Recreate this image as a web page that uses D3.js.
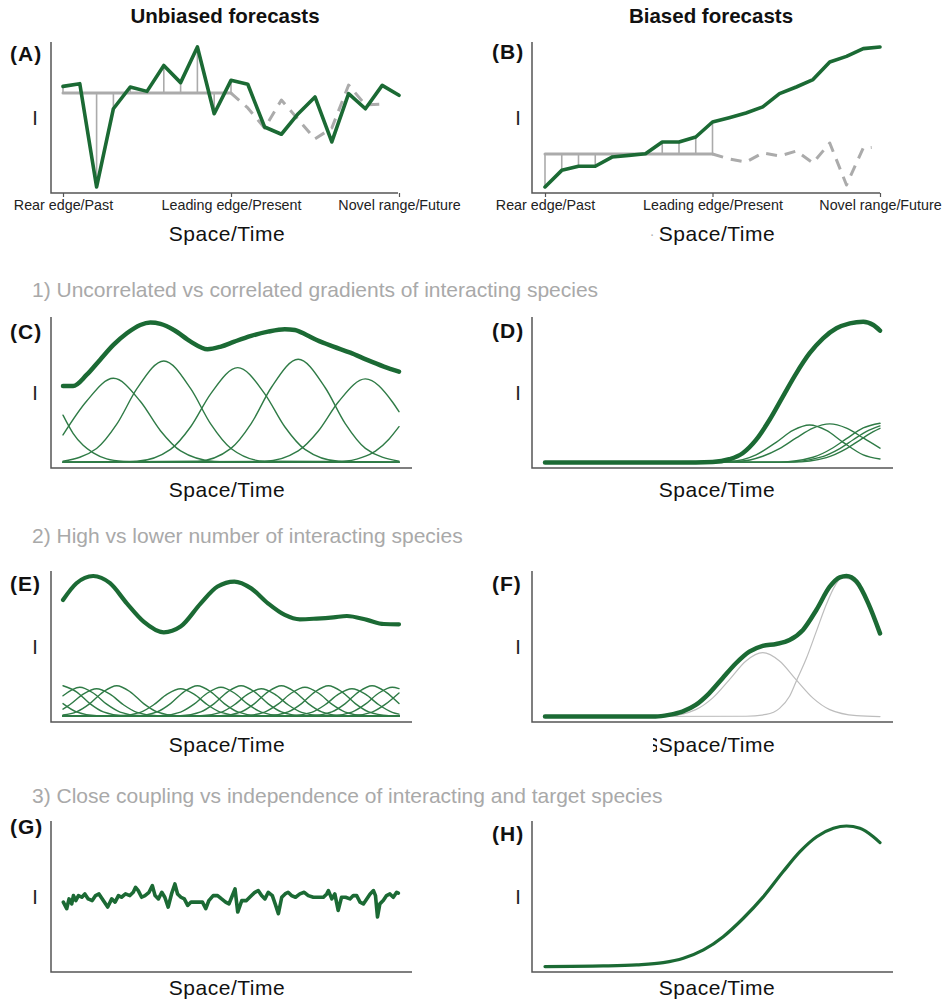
<!DOCTYPE html>
<html>
<head>
<meta charset="utf-8">
<script src="https://cdn.jsdelivr.net/npm/d3@7"></script>
<style>
  body { margin: 0; background: #fff; }
  text { font-family: "Liberation Sans", Arial, Helvetica, sans-serif; }
</style>
</head>
<body>
<svg id="fig" width="947" height="1003"></svg>
<script>
// ---------- data (y in % of panel height) ----------
var columnTitles = ["Unbiased forecasts", "Biased forecasts"];
var sectionTitles = [
    "1) Uncorrelated vs correlated gradients of interacting species",
    "2) High vs lower number of interacting species",
    "3) Close coupling vs independence of interacting and target species"
];
var tickLabels = ["Rear edge/Past", "Leading edge/Present", "Novel range/Future"];
var tickPos = [0, 10, 20];
var axisName = "Space/Time";
var yName = "I";

// (A) observed index, the flat past estimate and the dashed forecast
var aObserved = [70.6, 72.4, 4.0, 55.8, 70.2, 67.3, 84.5, 73.1, 96.7, 52.5, 74.6,
                 72.0, 43.7, 38.9, 52.5, 63.6, 33.8, 65.8, 55.8, 71.3, 64.7];
var aBaseline = 66.2;
var aForecast = [[10, 66.2], [11, 56.3], [12, 43.0], [13, 61.6], [14, 48.7], [15, 35.8],
                 [16, 43.0], [17, 71.5], [18, 58.3], [19, 58.9]];

// (B)
var bObserved = [4.0, 15.0, 17.7, 17.7, 23.8, 24.9, 26.0, 33.8, 33.8, 37.1, 47.0,
                 49.9, 53.0, 57.0, 65.8, 70.2, 75.1, 86.8, 90.5, 95.6, 96.7];
var bBaseline = 25.8;
var bForecast = [[10, 25.8], [11, 22.5], [12, 20.5], [13, 26.5], [14, 24.5], [15, 27.8],
                 [16, 19.9], [17, 33.1], [18, 5.3], [19, 29.8], [19.5, 30.2]];

// (C) summed response and the single species curves
var cTotal = [[0, 54.3], [3, 54.3], [7, 61.6], [11, 71.6], [15, 81.5], [19, 89.2], [23, 94.7],
              [26, 96.3], [29, 95.4], [33, 91.4], [38, 83.7], [43, 78.6], [47, 80.4], [51, 83.7],
              [56, 87.5], [61, 90.3], [66, 91.9], [69, 91.4], [72.5, 88.1], [75.5, 84.8],
              [80.5, 80.4], [85.5, 76.4], [90.5, 71.6], [95.5, 67.2], [100, 63.8]];
var cSpecies = [
    [[0, 35], [3, 23], [6, 15], [9, 10], [13, 6], [18, 4.3], [25, 3.8], [100, 3.8]],
    [[0, 21.9], [7, 44.2], [15, 59.4], [23, 44.2], [29, 24.7], [35, 11.3], [45, 4.4], [55, 3.8], [100, 3.8]],
    [[0, 4.5], [10, 12.9], [16, 29], [22, 52.5], [30, 70.9], [38, 52.5], [44, 29], [50, 12.9], [60, 4.5], [100, 3.8]],
    [[0, 3.8], [22, 4.5], [32, 12.3], [38, 27.3], [44, 49.3], [52, 66.5], [60, 49.3], [66, 27.3], [72, 12.3], [82, 4.5], [100, 3.8]],
    [[0, 3.8], [40, 4.5], [50, 13], [56, 29.4], [62, 53.3], [70, 72], [78, 53.3], [84, 29.4], [90, 13], [100, 4.5]],
    [[0, 3.8], [60, 4.4], [70, 11.3], [76, 24.5], [82, 43.9], [90, 59], [98, 43.9], [100, 37.3]],
    [[0, 3.8], [83, 4.4], [89, 7], [93, 11.2], [97, 19.1], [100, 27.4]]
];

// (D)
var dTotal = [[0, 3.6], [45, 3.6], [50, 3.9], [55, 5.8], [59, 9.8], [63, 18.6], [67, 31.8], [71, 47.3],
              [75, 62.7], [79, 76], [83, 85.9], [87, 92.5], [91, 95.8], [95, 96.9], [98, 94.7], [100, 91]];
var dSpecies = [
    [[0, 3.6], [55, 4.3], [63, 8.7], [69, 17], [74, 24.9], [79, 28.5], [84, 24.9], [89, 17], [95, 8.7], [100, 6.0]],
    [[0, 3.6], [58, 4.5], [65, 7.8], [70, 12.8], [75, 19.9], [80, 26.4], [85, 29.2], [90, 26.4], [95, 19.9], [100, 13.1]],
    [[0, 3.6], [70, 3.9], [80, 7.1], [86, 13.4], [90, 19.4], [95, 26.5], [100, 29.6]],
    [[0, 3.6], [72, 3.9], [82, 7], [88, 12.9], [92, 18.7], [96, 24.3], [100, 27.9]],
    [[0, 3.6], [74, 3.9], [84, 6.9], [90, 12.8], [94, 18.5], [98, 24.1], [100, 26.3]]
];

// (E)
var eTotal = [[0, 80.8], [4, 91.9], [9, 96.7], [14, 91.9], [19, 78.6], [24, 66.5], [30, 59.4],
              [35, 63.2], [41, 78.6], [46, 89.7], [51, 93], [56, 88.5], [61, 78.6], [66, 70.9],
              [70.5, 68], [75.5, 68.5], [80.5, 69.3], [84.5, 70.2], [90.5, 67.6], [95.5, 64.9], [100, 64.7]];
var eSpecies = [
    [[0, 24], [4, 20], [8, 12.2], [12, 6.7], [18, 4.2], [100, 4]],
    [[0, 17.4], [5, 23], [9, 19.2], [13, 11.8], [17, 6.6], [23, 4.2], [100, 4]],
    [[0, 8.5], [2, 11.4], [6, 18.4], [10, 22], [14, 18.4], [18, 11.4], [22, 6.4], [28, 4.2], [100, 4]],
    [[0, 12.2], [4, 6.7], [10, 4.2], [100, 4]],
    [[0, 4.6], [4, 6.7], [8, 12.2], [12, 20], [16, 24], [20, 20], [24, 12.2], [28, 6.7], [34, 4.2], [100, 4]],
    [[0, 4], [17, 4.2], [23, 6.4], [27, 11.4], [31, 18.4], [35, 22], [39, 18.4], [43, 11.4], [47, 6.4], [53, 4.2], [100, 4]],
    [[0, 4], [22, 4.2], [28, 6.7], [32, 12.2], [36, 20], [40, 24], [44, 20], [48, 12.2], [52, 6.7], [58, 4.2], [100, 4]],
    [[0, 4], [29, 4.2], [35, 6.6], [39, 11.8], [43, 19.2], [47, 23], [51, 19.2], [55, 11.8], [59, 6.6], [65, 4.2], [100, 4]],
    [[0, 4], [35, 4.2], [41, 6.7], [45, 12.2], [49, 20], [53, 24], [57, 20], [61, 12.2], [65, 6.7], [71, 4.2], [100, 4]],
    [[0, 4], [41, 4.2], [47, 6.4], [51, 11.4], [55, 18.4], [59, 22], [63, 18.4], [67, 11.4], [71, 6.4], [77, 4.2], [100, 4]],
    [[0, 4], [47, 4.2], [53, 6.7], [57, 12.2], [61, 20], [65, 24], [69, 20], [73, 12.2], [77, 6.7], [83, 4.2], [100, 4]],
    [[0, 4], [54, 4.2], [60, 6.6], [64, 11.8], [68, 19.2], [72, 23], [76, 19.2], [80, 11.8], [84, 6.6], [90, 4.2], [100, 4]],
    [[0, 4], [61, 4.2], [67, 6.7], [71, 12.2], [75, 20], [79, 24], [83, 20], [87, 12.2], [91, 6.7], [97, 4.2], [100, 4]],
    [[0, 4], [68, 4.2], [74, 6.4], [78, 11.4], [82, 18.4], [86, 22], [90, 18.4], [94, 11.4], [98, 6.4], [100, 5.2]],
    [[0, 4], [74, 4.2], [80, 6.7], [84, 12.2], [88, 20], [92, 24], [96, 20], [100, 12.2]],
    [[0, 4], [80, 4.2], [86, 6.6], [90, 11.8], [94, 19.2], [98, 23], [100, 22.1]],
    [[0, 4], [86, 4.2], [92, 6.6], [96, 11.8], [100, 19.2]]
];

// (F)
var fTotal = [[0, 3.6], [33, 3.6], [37, 4.7], [41, 6.9], [45, 11.3], [49, 19], [53, 29], [57, 38.9],
              [61, 46.6], [65, 50.4], [69, 51.7], [73, 54.3], [77, 61], [81, 74.2], [85, 89.6],
              [88, 95.8], [90, 96.7], [93, 93], [96.5, 78.6], [100, 58.7]];
var fSpecies = [
    [[0, 3.6], [37, 4.2], [45, 8.2], [50, 15.8], [55, 27.9], [60, 40.4], [65, 45.9], [70, 40.4],
     [75, 27.9], [80, 15.8], [85, 8.2], [93, 4.2], [100, 3.6]],
    [[0, 3.6], [60, 3.8], [66, 5], [70, 9], [73, 17], [75, 27], [78, 42], [81, 60], [84, 78],
     [86.5, 90], [88.5, 95.5], [91, 94.8], [93, 91], [96.5, 77.5], [100, 58]]
];

// (G) noisy, tightly coupled response
var gTotal = [[0.1, 46.3], [1.1, 41.9], [1.8, 48.4], [2.6, 45.1], [3.1, 50.6], [3.8, 47.3], [4.6, 50.6],
              [5.6, 49.5], [6.5, 51.7], [7.5, 48.4], [8.7, 47.3], [9.7, 50.6], [10.7, 51.7], [12.0, 47.3],
              [13.3, 43.0], [14.5, 48.4], [15.5, 46.3], [16.5, 50.6], [17.4, 49.5], [18.6, 51.7],
              [19.9, 50.6], [20.9, 52.8], [21.6, 56.1], [22.4, 53.9], [23.4, 49.5], [24.4, 50.6],
              [25.6, 52.8], [26.6, 57.2], [27.4, 50.6], [28.4, 48.4], [29.4, 52.8], [30.3, 49.5],
              [31.3, 43.0], [32.3, 51.7], [33.3, 58.3], [34.1, 51.7], [35.1, 49.5], [36.1, 48.4],
              [37.1, 44.1], [38.1, 46.3], [39.3, 46.3], [40.5, 46.3], [41.5, 46.3], [42.5, 41.9],
              [43.4, 47.3], [44.7, 50.6], [46.0, 50.6], [47.2, 48.4], [48.4, 46.3], [49.4, 45.1],
              [50.2, 49.5], [51.2, 55.0], [52.0, 39.7], [53.2, 47.3], [54.6, 47.3], [56.1, 50.6],
              [57.1, 52.8], [58.1, 53.9], [59.1, 50.6], [60.1, 48.4], [61.1, 52.8], [62.3, 50.6],
              [63.3, 44.1], [64.1, 38.6], [65.1, 49.5], [66.1, 51.7], [67.0, 52.8], [68.0, 50.6],
              [69.2, 49.5], [70.5, 51.7], [71.8, 52.8], [73.0, 50.6], [74.5, 49.5], [76.0, 49.5],
              [77.5, 49.5], [78.5, 51.7], [79.0, 53.9], [80.0, 48.4], [80.9, 51.7], [81.9, 40.8],
              [82.9, 49.5], [84.1, 49.5], [85.4, 48.4], [86.4, 50.6], [87.4, 50.6], [88.4, 46.3],
              [89.4, 45.1], [90.4, 48.4], [91.4, 51.7], [92.4, 53.9], [93.0, 50.6], [93.6, 36.4],
              [94.3, 45.1], [95.3, 47.3], [96.3, 50.6], [97.3, 51.7], [98.3, 49.5], [99.3, 52.8], [99.8, 52.2]];

// (H)
var hTotal = [[0, 3.6], [17.4, 4.0], [27.4, 4.7], [35.3, 6.2], [41.3, 9.1], [47.3, 14.6], [53.2, 23.4],
              [59.2, 35.6], [65.2, 49.9], [71.1, 66.5], [76.1, 79.7], [81.1, 89.6], [86.1, 95.2],
              [90, 96.7], [94, 95.2], [98, 89.6], [100, 85.7]];

// ---------- layout ----------
var svg = d3.select("#fig");
var green = "#1b6a34", thinGreen = "#2f7b46", gray = "#ababab", axisCol = "#555";

var cols = [
    { axis: 51, x0: 63, x1: 399, end: 412, labelX: 10, nameX: 227, iX: 35, titleX: 225 },
    { axis: 532, x0: 545, x1: 880, end: 893, labelX: 492, nameX: 717, iX: 518, titleX: 711 }
];
var rows = [
    { top: 42, bottom: 193 },
    { top: 317, bottom: 468 },
    { top: 571, bottom: 722 },
    { top: 821, bottom: 972 }
];
var panels = {
    A: { col: 0, row: 0, labelY: 61, nameY: 241, end: 398, xMax: 20 },
    B: { col: 1, row: 0, labelY: 59, nameY: 241, end: 880, xMax: 20 },
    C: { col: 0, row: 1, labelY: 339, nameY: 497, xMax: 100 },
    D: { col: 1, row: 1, labelY: 338, nameY: 497, xMax: 100 },
    E: { col: 0, row: 2, labelY: 591, nameY: 752, xMax: 100 },
    F: { col: 1, row: 2, labelY: 591, nameY: 752, xMax: 100 },
    G: { col: 0, row: 3, labelY: 834, nameY: 995, xMax: 100 },
    H: { col: 1, row: 3, labelY: 841, nameY: 995, xMax: 100 }
};
var sectionY = [297, 543, 803];

// column titles and section headings
columnTitles.forEach(function (t, i) {
    svg.append("text")
        .attr("x", cols[i].titleX).attr("y", 23)
        .attr("text-anchor", "middle")
        .style("font-size", "20.5px").style("font-weight", "bold")
        .attr("fill", "#111")
        .text(t);
});
sectionTitles.forEach(function (t, i) {
    svg.append("text")
        .attr("x", 32).attr("y", sectionY[i])
        .style("font-size", "21px")
        .attr("fill", "#a9a9a9")
        .text(t);
});

function makePanel(id) {
    var p = panels[id], c = cols[p.col], r = rows[p.row];
    var x = d3.scaleLinear().domain([0, p.xMax]).range([c.x0, c.x1]);
    var y = d3.scaleLinear().domain([0, 100]).range([r.bottom, r.top]);
    var g = svg.append("g").attr("class", "panel-" + id);

    // L-shaped axis frame
    g.append("path")
        .attr("d", "M" + c.axis + "," + r.top + "V" + r.bottom + "H" + (p.end || c.end))
        .attr("fill", "none")
        .attr("stroke", axisCol)
        .attr("stroke-width", 1.5);

    g.append("text")
        .attr("x", c.labelX).attr("y", p.labelY)
        .style("font-size", "21px").style("font-weight", "bold")
        .style("letter-spacing", "1px")
        .attr("fill", "#111")
        .text("(" + id + ")");

    g.append("text")
        .attr("x", c.iX).attr("y", (r.top + r.bottom) / 2 + 7)
        .attr("text-anchor", "middle")
        .style("font-size", "20px")
        .attr("fill", "#222")
        .text(yName);

    g.append("text")
        .attr("x", c.nameX).attr("y", p.nameY)
        .attr("text-anchor", "middle")
        .style("font-size", "21px")
        .style("letter-spacing", "0.5px")
        .attr("fill", "#111")
        .text(axisName);

    return { g: g, x: x, y: y, p: p, r: r };
}

function drawLine(pn, pts, curve, color, width, dash) {
    var line = d3.line()
        .x(function (d) { return pn.x(d[0]); })
        .y(function (d) { return pn.y(d[1]); })
        .curve(curve);
    var path = pn.g.append("path")
        .datum(pts)
        .attr("d", line)
        .attr("fill", "none")
        .attr("stroke", color)
        .attr("stroke-width", width)
        .attr("stroke-linejoin", "round")
        .attr("stroke-linecap", dash ? "butt" : "round");
    if (dash) path.attr("stroke-dasharray", dash);
    return path;
}

// forecast panels: residual sticks, flat estimate, dashed projection, observed series
function forecastPanel(id, observed, base, forecast) {
    var pn = makePanel(id);
    var axis = d3.axisBottom(pn.x)
        .tickValues(tickPos)
        .tickFormat(function (d, i) { return tickLabels[i]; })
        .tickSize(4)
        .tickSizeOuter(0)
        .tickPadding(3);
    var ax = pn.g.append("g")
        .attr("transform", "translate(0," + pn.r.bottom + ")")
        .call(axis);
    ax.select(".domain").remove();
    ax.selectAll("line").attr("stroke", axisCol).attr("stroke-width", 1.2);
    ax.selectAll("text")
        .style("font-size", "14.3px")
        .style("font-family", "'Liberation Sans', Arial, sans-serif")
        .attr("fill", "#222");

    var past = observed.slice(0, 11);
    pn.g.selectAll("line.stick")
        .data(past)
        .enter()
        .append("line")
        .attr("class", "stick")
        .attr("x1", function (d, i) { return pn.x(i); })
        .attr("x2", function (d, i) { return pn.x(i); })
        .attr("y1", pn.y(base))
        .attr("y2", function (d) { return pn.y(d); })
        .attr("stroke", gray)
        .attr("stroke-width", 1.6);
    drawLine(pn, [[0, base], [10, base]], d3.curveLinear, gray, 3);
    drawLine(pn, forecast, d3.curveLinear, gray, 3, "11,8");
    drawLine(pn, observed.map(function (v, i) { return [i, v]; }), d3.curveLinear, green, 3.6);
    return pn;
}

forecastPanel("A", aObserved, aBaseline, aForecast);
var pB = forecastPanel("B", bObserved, bBaseline, bForecast);
// stray grey speck left of the B axis name in the source figure
pB.g.append("text")
    .attr("x", 652).attr("y", 239)
    .attr("text-anchor", "middle")
    .style("font-size", "14px")
    .attr("fill", "#b0b0b0")
    .text("·");

var pC = makePanel("C");
cSpecies.forEach(function (s) { drawLine(pC, s, d3.curveMonotoneX, thinGreen, 1.4); });
drawLine(pC, cTotal, d3.curveMonotoneX, green, 4.5);

var pD = makePanel("D");
dSpecies.forEach(function (s) { drawLine(pD, s, d3.curveMonotoneX, thinGreen, 1.4); });
drawLine(pD, dTotal, d3.curveMonotoneX, green, 4.5);

var pE = makePanel("E");
eSpecies.forEach(function (s) { drawLine(pE, s, d3.curveMonotoneX, thinGreen, 1.4); });
drawLine(pE, eTotal, d3.curveMonotoneX, green, 4.2);

var pF = makePanel("F");
fSpecies.forEach(function (s) { drawLine(pF, s, d3.curveMonotoneX, "#bdbdbd", 1.2); });
drawLine(pF, fTotal, d3.curveMonotoneX, green, 4.5);
// clipped glyph fragment just left of the F axis name in the source figure
svg.append("clipPath").attr("id", "frag")
    .append("rect").attr("x", 653).attr("y", 730).attr("width", 4).attr("height", 25);
pF.g.append("text")
    .attr("x", 645).attr("y", 752)
    .attr("clip-path", "url(#frag)")
    .style("font-size", "21px")
    .attr("fill", "#111")
    .text("S");

var pG = makePanel("G");
drawLine(pG, gTotal, d3.curveLinear, green, 3.6);

var pH = makePanel("H");
drawLine(pH, hTotal, d3.curveMonotoneX, green, 3.2);
</script>
</body>
</html>
